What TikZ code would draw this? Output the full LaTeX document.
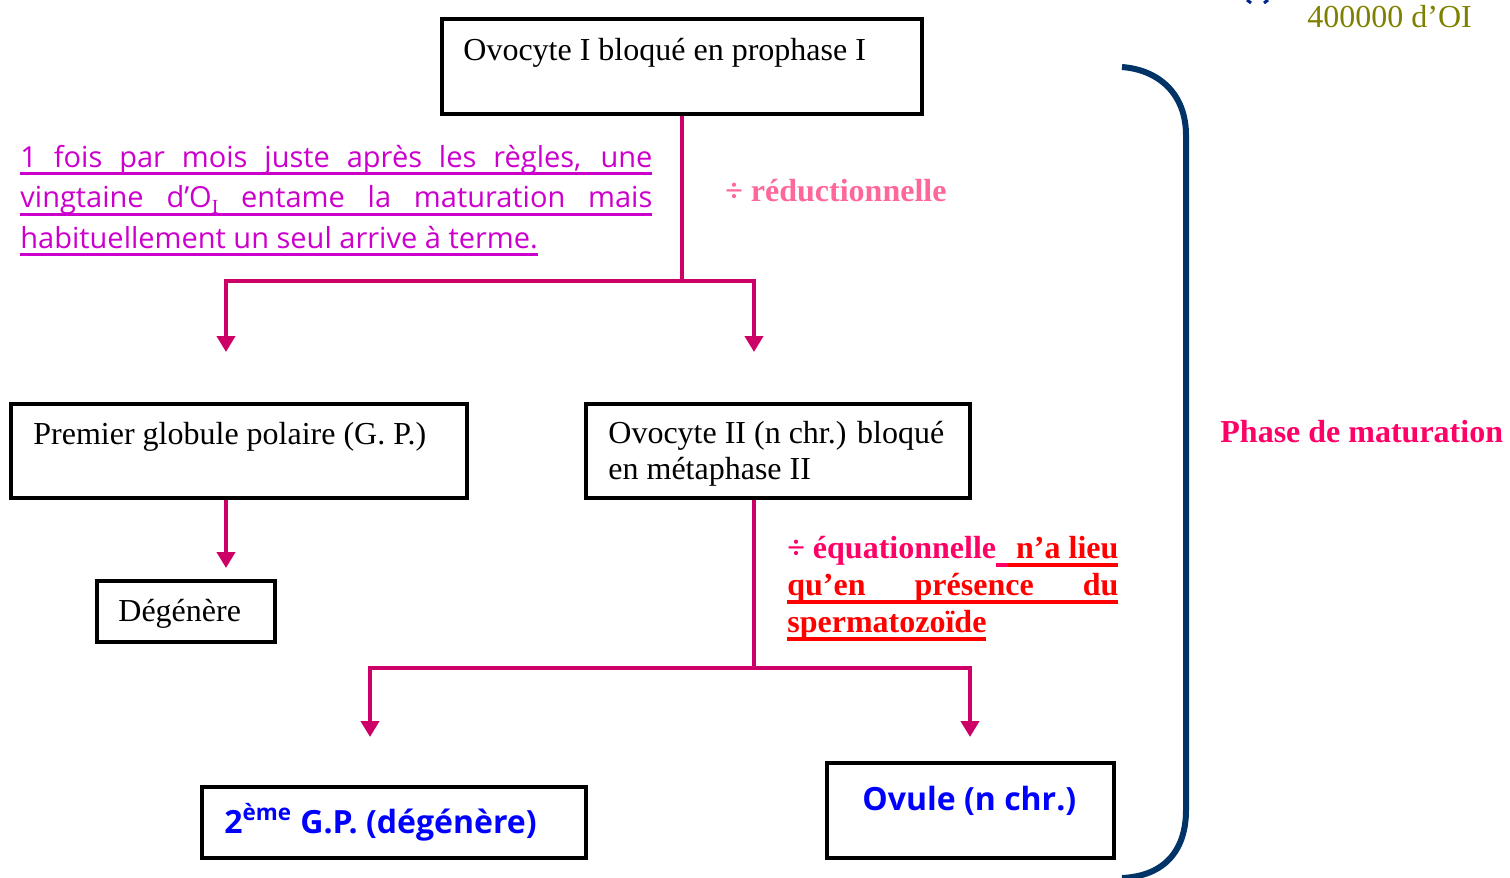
\documentclass[tikz,border=0pt]{standalone}
\usepackage{fontspec}
\setmainfont{Liberation Serif}
\newfontfamily\comicf{Open Sans}
\usetikzlibrary{arrows.meta,calc}
\definecolor{conn}{HTML}{CC0066}
\definecolor{magtxt}{HTML}{CC00CC}
\definecolor{redu}{HTML}{FF6699}
\definecolor{eqc}{HTML}{FF0066}
\definecolor{redt}{HTML}{FF0000}
\definecolor{olivet}{HTML}{808000}
\definecolor{navyb}{HTML}{003366}
\definecolor{bluet}{HTML}{0000FF}
\newcommand\myul[1]{\leavevmode\setbox0=\hbox{#1}\rlap{\rule[-4pt]{\wd0}{1.5pt}}\box0}
\newcommand\myulb[1]{\leavevmode\setbox0=\hbox{#1}\rlap{\rule[-4.5pt]{\wd0}{2pt}}\box0}
\begin{document}
\begin{tikzpicture}[x=0.5pt,y=-0.5pt,
  box/.style={draw=black,line width=2pt,inner sep=0pt,anchor=north west},
  link/.style={draw=conn,line width=2pt},
  arr/.style={link,-{Triangle[width=9pt,length=8pt]}},
  lbl/.style={inner sep=0pt,anchor=base west,font=\fontsize{16pt}{18pt}\selectfont}]
\useasboundingbox (0,0) rectangle (1510,878);

% boxes
\node[box,minimum width=240pt,minimum height=47.5pt] (b1) at (440,17) {};
\node[box,minimum width=228pt,minimum height=47pt] (b2) at (9,402) {};
\node[box,minimum width=192pt,minimum height=47pt] (b3) at (584,402) {};
\node[box,minimum width=89pt,minimum height=30.5pt] (b4) at (95,579) {};
\node[box,minimum width=192pt,minimum height=35.5pt] (b5) at (200,785) {};
\node[box,minimum width=143.5pt,minimum height=47.5pt] (b6) at (825,761) {};

% box texts
\node[lbl] (t1) at (463,60) {Ovocyte I bloqué en prophase I};
\node[lbl] (t2) at (33,444) {Premier globule polaire (G. P.)};
\node[lbl] (t3) at (608,443) {\parbox[t]{190pt}{\fontsize{16pt}{18pt}\selectfont Ovocyte II (n chr.) bloqué\\en métaphase II}};
\node[lbl] (t4) at (118,621) {Dégénère};
\node[lbl,font=\comicf\bfseries\fontsize{16pt}{18pt}\selectfont,text=bluet] (t5) at (224,833) {2\textsuperscript{ème} G.P. (dégénère)};
\node[lbl,font=\comicf\bfseries\fontsize{16pt}{18pt}\selectfont,text=bluet] (t6) at (862,810) {Ovule (n chr.)};

% other labels
\node[lbl,text=olivet] (t7) at (1307,27) {400000 d’OI};
\node[lbl,text=redu,font=\bfseries\fontsize{16pt}{18pt}\selectfont] (t8) at (725,201) {÷ réductionnelle};
\node[lbl,text=eqc,font=\bfseries\fontsize{16pt}{18pt}\selectfont] (t9) at (1220,442) {Phase de maturation};
\node[lbl,text=magtxt] (t10) at (20,167) {\parbox[t]{316pt}{\comicf\fontsize{14.5pt}{20.25pt}\selectfont
  \myul{\makebox[316pt][s]{1 fois par mois juste après les règles, une}}\\
  \myul{\makebox[316pt][s]{vingtaine d’O\smash{\raisebox{-3pt}{\rmfamily\fontsize{10pt}{10pt}\selectfont I}} entame la maturation mais}}\\
  \myul{habituellement un seul arrive à terme.}}};
\node[lbl] (t11) at (787,558) {\parbox[t]{165.5pt}{\bfseries\fontsize{16pt}{18.5pt}\selectfont
  \noindent\hbox to 165.5pt{\color{eqc}÷ équationnelle\leaders\vrule height -2.5pt depth 4.5pt\hskip 6pt\color{redt}\leaders\vrule height -2.5pt depth 4.5pt\hfill\myulb{n’a lieu}}\\
  \color{redt}\myulb{\makebox[165.5pt][s]{qu’en présence du}}\\
  \myulb{spermatozoïde}}};

% connectors
\coordinate (j1) at (682,281);
\coordinate (e1) at (226,352);
\coordinate (e2) at (754,352);
\draw[link] (b1.south -| j1) -- (j1);
\draw[arr] (j1) -| (e1);
\draw[arr] (j1) -| (e2);
\coordinate (e3) at (226,568);
\draw[arr] (b2.south -| e3) -- (e3);
\coordinate (j2) at (754,668);
\coordinate (e4) at (370,737);
\coordinate (e5) at (970,737);
\draw[link] (b3.south -| j2) -- (j2);
\draw[arr] (j2) -| (e4);
\draw[arr] (j2) -| (e5);

% bracket
\draw[navyb,line width=3pt] (1122,67) .. controls (1160,70) and (1186,95) .. (1186,135) -- (1186,810) .. controls (1186,850) and (1165,876) .. (1122,878);
% partial glyph at top edge
\draw[navyb!70!blue,line width=1.5pt] (1247,0) -- (1251,3);
\draw[navyb!70!blue,line width=1.5pt] (1268,0) -- (1264,3);
\end{tikzpicture}
\end{document}
